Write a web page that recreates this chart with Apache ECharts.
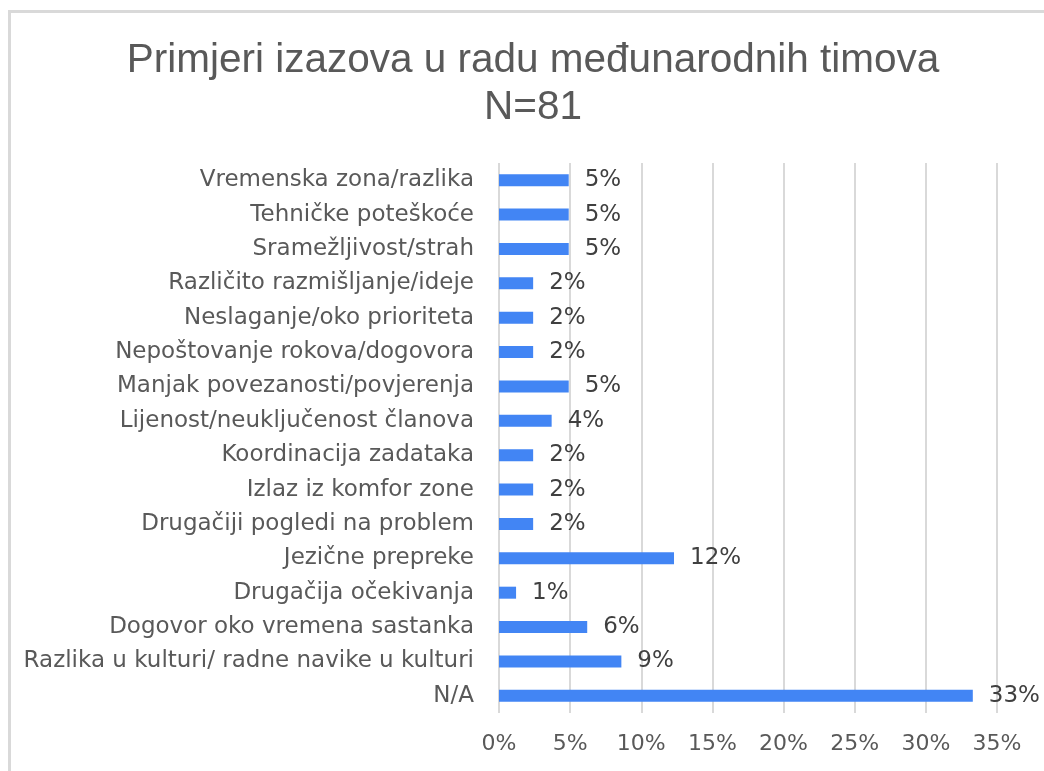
<!DOCTYPE html>
<html>
<head>
<meta charset="utf-8">
<title>Primjeri izazova</title>
<script src="https://cdn.jsdelivr.net/npm/echarts@6/dist/echarts.min.js"></script>
<style>
  html, body { margin: 0; padding: 0; background: #fff; }
  #chart { width: 1044px; height: 771px; }
</style>
</head>
<body>
<div id="chart"></div>
<script>
// kategorije odozgo prema dolje
var kategorije = [
  'Vremenska zona/razlika',
  'Tehničke poteškoće',
  'Sramežljivost/strah',
  'Različito razmišljanje/ideje',
  'Neslaganje/oko prioriteta',
  'Nepoštovanje rokova/dogovora',
  'Manjak povezanosti/povjerenja',
  'Lijenost/neuključenost članova',
  'Koordinacija zadataka',
  'Izlaz iz komfor zone',
  'Drugačiji pogledi na problem',
  'Jezične prepreke',
  'Drugačija očekivanja',
  'Dogovor oko vremena sastanka',
  'Razlika u kulturi/ radne navike u kulturi',
  'N/A'
];
// postotak odgovora (N=81)
var postoci = [4.9, 4.9, 4.9, 2.4, 2.4, 2.4, 4.9, 3.7, 2.4, 2.4, 2.4, 12.3, 1.2, 6.2, 8.6, 33.3];
var osX = { min: 0, max: 35, korak: 5 };

var chart = echarts.init(document.getElementById('chart'));

var option = {
  animation: false,
  title: {
    text: 'Primjeri izazova u radu međunarodnih timova\nN=81',
    left: 533,
    top: 37,
    padding: 0,
    textAlign: 'center',
    textStyle: {
      fontFamily: 'Liberation Sans',
      fontSize: 40.5,
      fontWeight: 'normal',
      color: '#595959',
      lineHeight: 47
    }
  },
  graphic: [{
    type: 'rect',
    shape: { x: 9.5, y: 11.5, width: 1200, height: 900 },
    style: { fill: 'none', stroke: '#d9d9d9', lineWidth: 3 },
    silent: true
  }],
  grid: { left: 499, right: 47, top: 163, bottom: 58 },
  xAxis: {
    type: 'value',
    min: osX.min,
    max: osX.max,
    interval: osX.korak,
    axisLine: { show: false },
    axisTick: { show: false },
    splitLine: { lineStyle: { color: '#d9d9d9', width: 2 } },
    axisLabel: {
      formatter: '{value}%',
      fontFamily: 'DejaVu Sans',
      fontSize: 22,
      color: '#595959',
      margin: 20
    }
  },
  yAxis: {
    type: 'category',
    inverse: true,
    data: kategorije,
    axisLine: { show: false },
    axisTick: { show: false },
    axisLabel: {
      fontFamily: 'DejaVu Sans',
      fontSize: 23,
      color: '#595959',
      margin: 25
    }
  },
  series: [{
    type: 'bar',
    data: postoci,
    barWidth: 12,
    itemStyle: { color: '#4285f4' },
    label: {
      show: true,
      position: 'right',
      distance: 16,
      fontFamily: 'DejaVu Sans',
      fontSize: 23,
      color: '#404040',
      formatter: function (p) { return Math.round(p.value) + '%'; }
    }
  }]
};

chart.setOption(option);
</script>
</body>
</html>
